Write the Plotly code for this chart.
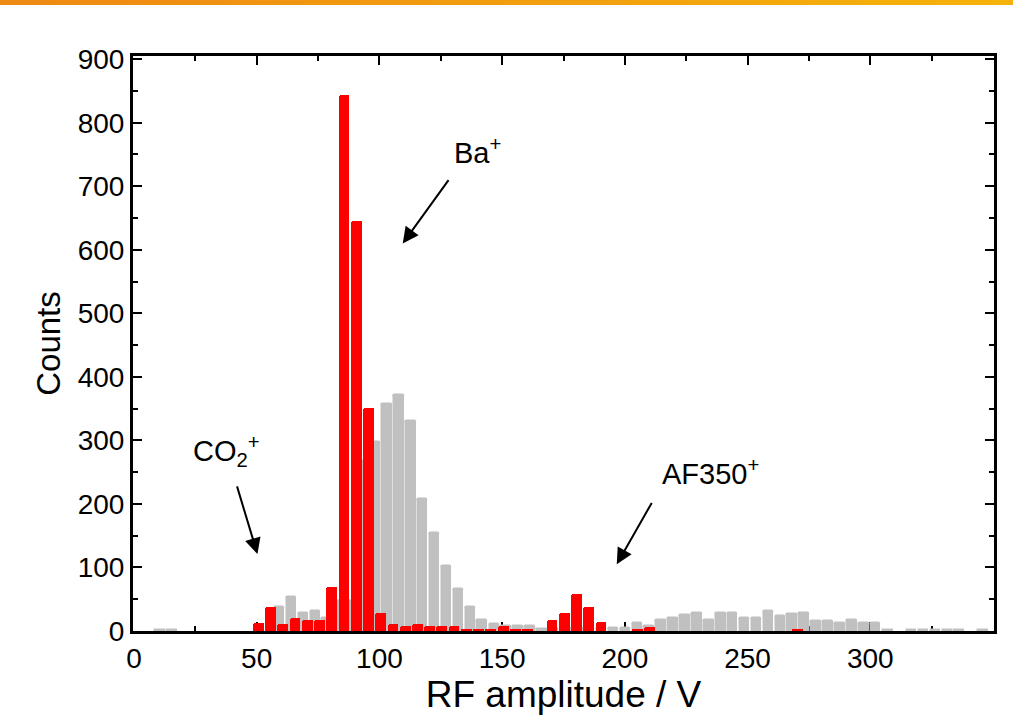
import plotly.graph_objects as go

# ---- data ----
red_x = [50.7, 55.7, 60.6, 65.6, 70.6, 75.6, 80.6, 85.6, 90.5, 95.5,
         100.5, 105.5, 110.5, 115.5, 120.5, 125.4, 130.4, 135.4, 140.4, 145.4,
         150.4, 155.4, 160.4, 170.3, 175.3, 180.3, 185.3, 190.3, 205.2, 210.2,
         270.3]
red_counts = [13, 37, 11, 20, 17, 17, 69, 843, 646, 351,
              28, 11, 8, 11, 8, 8, 8, 3, 3, 3,
              8, 3, 3, 17, 28, 58, 37, 14, 3, 6,
              3]

gray_x = [10.7, 15.6,
          59.3, 64.2, 69.0, 73.9, 78.7, 83.6, 88.5, 93.3, 98.2, 103.0,
          107.9, 112.8, 117.6, 122.5, 127.3, 132.2, 137.1, 141.9, 146.8, 151.6,
          156.5, 161.3, 166.2, 171.0, 175.9, 180.8, 185.6, 190.5, 195.3, 200.2,
          205.1, 209.9, 214.8, 219.6, 224.5, 229.4, 234.2, 239.1, 243.9, 248.8,
          253.6, 258.5, 263.4, 268.2, 273.1, 277.9, 282.8, 287.6, 292.5, 297.4,
          302.2,
          307.1, 316.8, 321.6, 326.5, 331.4, 336.2, 345.9]
gray_counts = [1, 1,
               37, 54, 28, 31, 20, 48, 48, 267, 297, 358,
               372, 331, 207, 155, 103, 66, 38, 17, 11, 8,
               8, 8, 3, 5, 5, 5, 5, 5, 5, 5,
               13, 8, 17, 20, 25, 28, 18, 28, 28, 20,
               20, 32, 23, 27, 28, 15, 15, 12, 18, 12,
               12,
               1, 1, 1, 1, 1, 1, 1]

x_ticks = [0, 50, 100, 150, 200, 250, 300, 350]
y_ticks = [0, 100, 200, 300, 400, 500, 600, 700, 800, 900]

FONT = "Liberation Sans, Arial, sans-serif"

fig = go.Figure()
fig.add_trace(go.Bar(
    x=gray_x, y=gray_counts, width=3.9,
    marker=dict(color="#C0C0C0", line=dict(color="#C0C0C0", width=1.5),
                cornerradius=2),
    showlegend=False, hoverinfo="x+y"))
fig.add_trace(go.Bar(
    x=red_x, y=red_counts, width=4.4,
    marker=dict(color="#FF0000", line=dict(width=0), cornerradius=2),
    showlegend=False, hoverinfo="x+y"))

W, H = 1013, 722
ML, MR, MT, MB = 133, 19, 56, 91

axis_common = dict(
    showline=True, linecolor="black", linewidth=3, mirror="allticks",
    ticks="inside", ticklen=9, tickwidth=2, tickcolor="black",
    showgrid=False, zeroline=False, layer="below traces",
    tickfont=dict(family=FONT, size=28, color="black"),
)

fig.update_layout(
    width=W, height=H,
    margin=dict(l=ML, r=MR, t=MT, b=MB),
    plot_bgcolor="white", paper_bgcolor="white",
    barmode="overlay", bargap=0,
    font=dict(family=FONT, color="black"),
    xaxis=dict(range=[-0.4, 350.4], tickvals=x_ticks,
               ticktext=[str(v) for v in x_ticks],
               minor=dict(dtick=25, tick0=0, ticks="inside", ticklen=5,
                          tickwidth=2, tickcolor="black", showgrid=False),
               title=dict(text="RF amplitude / V",
                          font=dict(family=FONT, size=37), standoff=0),
               **axis_common),
    yaxis=dict(range=[0, 905], tickvals=y_ticks,
               ticktext=[str(v) for v in y_ticks],
               minor=dict(dtick=50, tick0=0, ticks="inside", ticklen=5,
                          tickwidth=2, tickcolor="black", showgrid=False),
               title=dict(text="Counts",
                          font=dict(family=FONT, size=33), standoff=8),
               **axis_common),
)

# orange gradient band on top of page (decoration)
pw = W - ML - MR
ph = H - MT - MB
n = 40
c0 = (238, 137, 20)
c1 = (245, 178, 10)
for i in range(n):
    t = i / (n - 1)
    col = "rgb(%d,%d,%d)" % tuple(round(a + (b - a) * t) for a, b in zip(c0, c1))
    x0 = (i * W / n - ML) / pw
    x1 = ((i + 1) * W / n + 1 - ML) / pw
    fig.add_shape(type="rect", xref="paper", yref="paper",
                  x0=x0, x1=x1,
                  y0=(H - MB - 5) / ph, y1=(H - MB + 2) / ph,
                  fillcolor=col, line=dict(width=0), layer="above")

# annotations: labels
ann_font = dict(family=FONT, size=29, color="black")
fig.add_annotation(x=140, y=756, xref="x", yref="y", text="Ba<sup>+</sup>",
                   showarrow=False, font=ann_font)
fig.add_annotation(x=37.5, y=283, xref="x", yref="y",
                   text="CO<sub>2</sub><sup>+</sup>",
                   showarrow=False, font=ann_font)
fig.add_annotation(x=235, y=250, xref="x", yref="y", text="AF350<sup>+</sup>",
                   showarrow=False, font=ann_font)

# arrows
arrows = [
    ((128.6, 712), (109.5, 610)),
    ((41.8, 230), (50.3, 121)),
    ((211.3, 204), (196.7, 105)),
]
for (tx, ty), (hx, hy) in arrows:
    fig.add_annotation(x=hx, y=hy, ax=tx, ay=ty, xref="x", yref="y",
                       axref="x", ayref="y", text="", showarrow=True,
                       arrowhead=2, arrowsize=1.6, arrowwidth=2,
                       arrowcolor="black")

fig.write_html("out.html")
